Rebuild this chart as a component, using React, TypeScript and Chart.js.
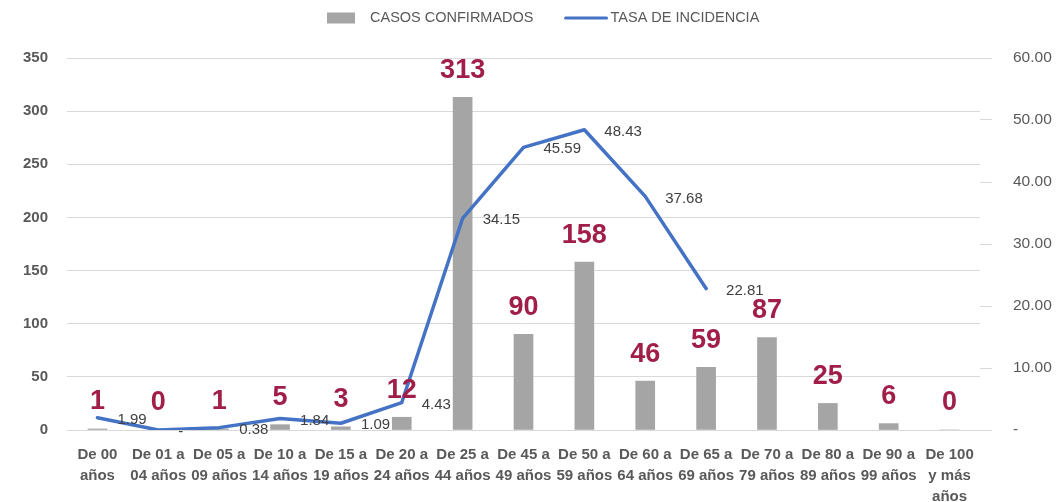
import React, { useEffect, useRef } from "react";
import { Chart, registerables } from "chart.js";

Chart.register(...registerables);

const categories: string[][] = [
  ["De 00", "años"],
  ["De 01 a", "04 años"],
  ["De 05 a", "09 años"],
  ["De 10 a", "14 años"],
  ["De 15 a", "19 años"],
  ["De 20 a", "24 años"],
  ["De 25 a", "44 años"],
  ["De 45 a", "49 años"],
  ["De 50 a", "59 años"],
  ["De 60 a", "64 años"],
  ["De 65 a", "69 años"],
  ["De 70 a", "79 años"],
  ["De 80 a", "89 años"],
  ["De 90 a", "99 años"],
  ["De 100", "y más", "años"],
];
const casosConfirmados: number[] = [1, 0, 1, 5, 3, 12, 313, 90, 158, 46, 59, 87, 25, 6, 0];
const tasaIncidencia: (number | null)[] = [
  1.99, 0, 0.38, 1.84, 1.09, 4.43, 34.15, 45.59, 48.43, 37.68, 22.81, null, null, null, null,
];
const casosLabel = "CASOS CONFIRMADOS";
const tasaLabel = "TASA DE INCIDENCIA";
const leftMax = 350;
const leftStep = 50;
const rightMax = 60;
const rightStep = 10;

const FONT = "'Liberation Sans', Arial, sans-serif";
const BAR_COLOR = "#A5A5A5";
const LINE_COLOR = "#4472C4";
const LABEL_RED = "#A01E48";
const TEXT_GRAY = "#595959";
const GRID = "#D9D9D9";

const labelsPlugin = {
  id: "customLabels",
  afterDatasetsDraw(chart: any) {
    const ctx = chart.ctx;
    ctx.save();
    const barMeta = chart.getDatasetMeta(0);
    ctx.font = `bold 27px ${FONT}`;
    ctx.fillStyle = LABEL_RED;
    ctx.textAlign = "center";
    ctx.textBaseline = "middle";
    barMeta.data.forEach((el: any, i: number) => {
      const v = casosConfirmados[i];
      ctx.fillText(String(v), el.x, el.y - 27);
    });
    const lineMeta = chart.getDatasetMeta(1);
    ctx.font = `15px ${FONT}`;
    ctx.fillStyle = "#404040";
    ctx.textAlign = "left";
    lineMeta.data.forEach((el: any, i: number) => {
      const v = tasaIncidencia[i];
      if (v === null || v === undefined) return;
      const txt = v === 0 ? "-" : v.toFixed(2);
      ctx.fillText(txt, el.x + 20, el.y + 2);
    });
    ctx.restore();
  },
  afterDraw(chart: any) {
    const ctx = chart.ctx;
    ctx.save();
    ctx.font = `14.5px ${FONT}`;
    ctx.fillStyle = TEXT_GRAY;
    ctx.textBaseline = "middle";
    ctx.textAlign = "left";
    const y = 18;
    let x = 327;
    ctx.fillStyle = BAR_COLOR;
    ctx.fillRect(x, y - 5.5, 28, 11);
    x += 28 + 15;
    ctx.fillStyle = TEXT_GRAY;
    ctx.fillText(casosLabel, x, y);
    x += ctx.measureText(casosLabel).width + 32;
    ctx.strokeStyle = LINE_COLOR;
    ctx.lineWidth = 3;
    ctx.lineCap = "round";
    ctx.beginPath();
    ctx.moveTo(x, y);
    ctx.lineTo(x + 41, y);
    ctx.stroke();
    x += 41 + 4;
    ctx.fillText(tasaLabel, x, y);
    ctx.restore();
  },
};

export default function App() {
  const ref = useRef<HTMLCanvasElement>(null);
  useEffect(() => {
    if (!ref.current) return;
    const chart = new Chart(ref.current, {
      type: "bar",
      data: {
        labels: categories,
        datasets: [
          {
            type: "bar",
            label: casosLabel,
            data: casosConfirmados,
            backgroundColor: BAR_COLOR,
            barThickness: 19,
            yAxisID: "y",
            order: 1,
          },
          {
            type: "line",
            label: tasaLabel,
            data: tasaIncidencia,
            borderColor: LINE_COLOR,
            backgroundColor: LINE_COLOR,
            borderWidth: 3.5,
            pointRadius: 0,
            tension: 0,
            borderCapStyle: "round",
            borderJoinStyle: "round",
            spanGaps: false,
            yAxisID: "y1",
            order: 0,
          } as any,
        ],
      },
      options: {
        animation: false,
        responsive: true,
        maintainAspectRatio: false,
        layout: { padding: { top: 58, left: 0, right: 0, bottom: 0 } },
        plugins: {
          legend: { display: false },
          tooltip: { enabled: false },
        },
        scales: {
          x: {
            grid: { display: false, drawTicks: false },
            border: { display: true, color: GRID, width: 1 },
            ticks: {
              autoSkip: false,
              maxRotation: 0,
              minRotation: 0,
              padding: 14,
              color: TEXT_GRAY,
              font: { family: FONT, size: 15, weight: "bold", lineHeight: 1.4 },
            },
            afterFit: (s: any) => {
              s.height = 72;
            },
          },
          y: {
            position: "left",
            min: 0,
            max: leftMax,
            grid: { color: GRID, drawTicks: false, lineWidth: 1 },
            border: { display: false },
            ticks: {
              stepSize: leftStep,
              padding: 19,
              color: TEXT_GRAY,
              font: { family: FONT, size: 15, weight: "bold" },
            },
            afterFit: (s: any) => {
              s.width = 67;
            },
          },
          y1: {
            position: "right",
            min: 0,
            max: rightMax,
            grid: { drawOnChartArea: false, drawTicks: true, tickLength: 12, color: GRID },
            border: { display: false },
            ticks: {
              stepSize: rightStep,
              padding: 21,
              color: TEXT_GRAY,
              font: { family: FONT, size: 15.5 },
              callback: (v: any) => (Number(v) === 0 ? "-" : Number(v).toFixed(2)),
            },
            afterFit: (s: any) => {
              s.width = 76;
            },
          },
        },
      },
      plugins: [labelsPlugin],
    });
    return () => chart.destroy();
  }, []);
  return (
    <div style={{ position: "absolute", left: 0, top: 0, width: 1056, height: 502 }}>
      <canvas ref={ref} />
    </div>
  );
}
